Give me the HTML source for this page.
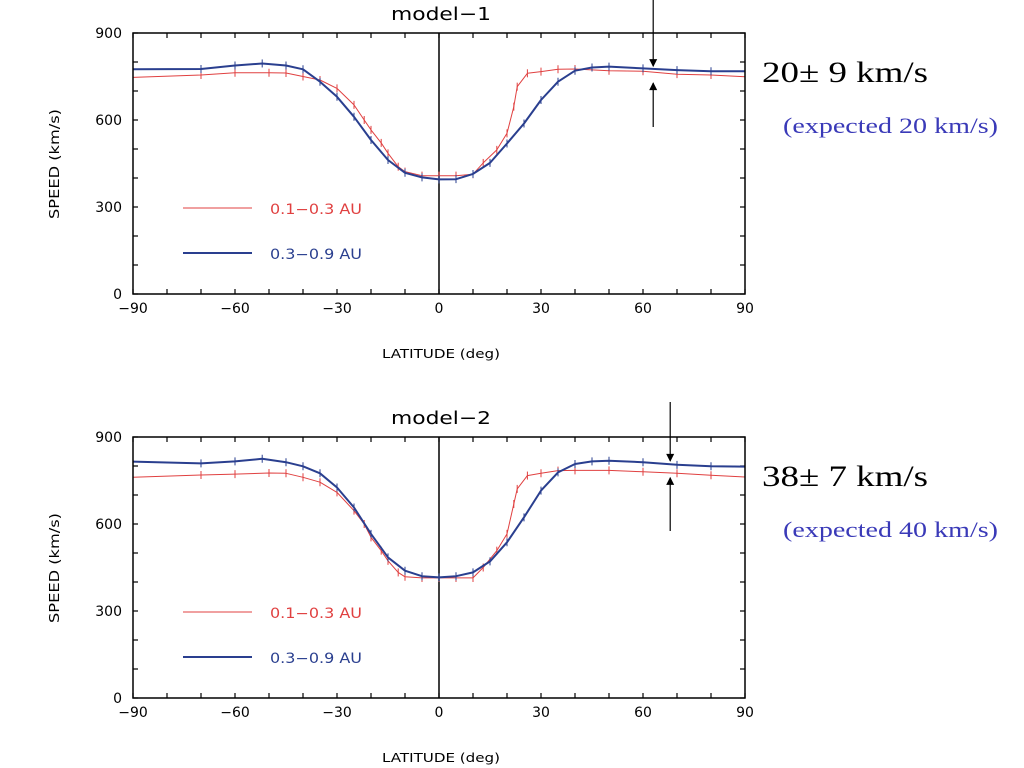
<!DOCTYPE html>
<html><head><meta charset="utf-8"><style>
html,body{margin:0;padding:0;background:#fff;width:1024px;height:768px;overflow:hidden}
text{font-family:"DejaVu Sans","Liberation Sans",sans-serif}
.ser{font-family:"Liberation Serif",serif}
</style></head><body>
<svg id="svg" width="1024" height="768" xmlns="http://www.w3.org/2000/svg"></svg>
<script>
const lat = [-90,-70,-60,-52,-45,-40,-35,-30,-25,-20,-15,-10,-5,0,5,10,15,20,25,30,35,40,45,50,60,70,80,90];
const blue1 = [775,776,788,795,788,775,732,680,611,531,462,418,402,395,396,414,452,519,588,669,732,770,781,784,778,772,768,768];
const red1Lat = [-90,-70,-60,-50,-45,-40,-35,-30,-25,-22,-20,-17,-15,-12,-10,-5,0,5,10,13,17,20,22,23,26,30,35,40,50,60,70,80,90];
const red1 = [747,755,763,763,762,750,738,709,652,600,566,521,485,439,422,408,408,408,413,452,497,554,646,715,761,767,775,776,770,768,758,755,749];
const blue2 = [815,809,816,825,813,799,775,726,657,566,485,439,420,416,420,433,471,537,623,715,778,807,816,818,813,804,799,798];
const red2 = [761,769,772,776,775,761,744,709,646,600,554,508,473,433,418,414,414,414,414,450,508,566,669,721,767,775,784,785,785,780,775,768,762];
const xTicks = [-90,-60,-30,0,30,60,90];
const yTicks = [0,300,600,900];
const panels = [
 {title:"model\u22121", top:33, blue:blue1, red:red1, result:"20\u00b1 9 km/s", expected:"(expected 20 km/s)", arrowLat:63},
 {title:"model\u22122", top:437, blue:blue2, red:red2, result:"38\u00b1 7 km/s", expected:"(expected 40 km/s)", arrowLat:68}
];
const NS="http://www.w3.org/2000/svg";
const svg=document.getElementById('svg');
function mk(tag,attrs,parent,txt){const e=document.createElementNS(NS,tag);for(const k in attrs)e.setAttribute(k,attrs[k]);if(txt!==undefined)e.textContent=txt;(parent||svg).appendChild(e);return e;}
const L=133,R=745,H=261;
panels.forEach(p=>{
  const g=mk('g',{});
  
  
  const T=p.top,B=T+H;
  const X=v=>L+(v+90)/180*(R-L);
  const Y=v=>B-v/900*H;
  for(let v=-90;v<=90;v+=10){mk('line',{x1:X(v),x2:X(v),y1:B,y2:B-5,stroke:'#000','stroke-width':1.2},g);mk('line',{x1:X(v),x2:X(v),y1:T,y2:T+5,stroke:'#000','stroke-width':1.2},g);}
  for(let v=0;v<=900;v+=100){mk('line',{x1:L,x2:L+5,y1:Y(v),y2:Y(v),stroke:'#000','stroke-width':1.2},g);mk('line',{x1:R,x2:R-5,y1:Y(v),y2:Y(v),stroke:'#000','stroke-width':1.2},g);}
  xTicks.forEach(v=>{const t=mk('text',{x:X(v),y:B+19,'text-anchor':'middle','font-size':14},g,v<0?'\u2212'+(-v):String(v));});
  yTicks.forEach(v=>{const t=mk('text',{x:L-11,y:Y(v)+5,'text-anchor':'end','font-size':14},g,String(v));});
  mk('line',{x1:X(0),x2:X(0),y1:T,y2:B,stroke:'#000','stroke-width':1.5},g);
  const ser=(lats,vals,color,w,name,err)=>{
    const pts=lats.map((a,i)=>X(a).toFixed(1)+','+Y(vals[i]).toFixed(1)).join(' ');
    const pl=mk('polyline',{points:pts,fill:'none',stroke:color,'stroke-width':w,'stroke-linejoin':'round'},g);
    
    
    lats.forEach((a,i)=>{mk('line',{x1:X(a),x2:X(a),y1:Y(vals[i])-err,y2:Y(vals[i])+err,stroke:color,'stroke-width':1},g);});
  };
  ser(red1Lat,p.red,'#e04040',1,'series-0.1-0.3AU',4);
  ser(lat,p.blue,'#2a3f8f',2,'series-0.3-0.9AU',4);
  const fr=mk('rect',{x:L,y:T,width:R-L,height:H,fill:'none',stroke:'#000','stroke-width':1.5},g);
  
  const tt=mk('text',{x:441,y:T-13,'text-anchor':'middle','font-size':18,textLength:100,lengthAdjust:'spacingAndGlyphs'},g,p.title);
  
  const xl=mk('text',{x:441,y:T+325,'text-anchor':'middle','font-size':12,textLength:118,lengthAdjust:'spacingAndGlyphs'},g,'LATITUDE (deg)');
  
  const yl=mk('text',{x:0,y:0,'text-anchor':'middle','font-size':13,textLength:110,lengthAdjust:'spacingAndGlyphs',transform:'translate(59,'+(T+131)+') rotate(-90)'},g,'SPEED (km/s)');
  
  mk('line',{x1:183,x2:252,y1:T+175,y2:T+175,stroke:'#e04040','stroke-width':1},g);
  const l1=mk('text',{x:270,y:T+181,'font-size':14,fill:'#e04040',textLength:92,lengthAdjust:'spacingAndGlyphs'},g,'0.1\u22120.3 AU');
  
  mk('line',{x1:183,x2:252,y1:T+220,y2:T+220,stroke:'#2a3f8f','stroke-width':2},g);
  const l2=mk('text',{x:270,y:T+226,'font-size':14,fill:'#2a3f8f',textLength:92,lengthAdjust:'spacingAndGlyphs'},g,'0.3\u22120.9 AU');
  
  const ax=X(p.arrowLat);
  const bv=Y(p.blue[lat.indexOf(70)]);
  mk('line',{x1:ax,x2:ax,y1:T-35,y2:bv-4,stroke:'#000','stroke-width':1.2},g);
  mk('polygon',{points:`${ax-4},${bv-11} ${ax+4},${bv-11} ${ax},${bv-3}`,fill:'#000'},g);
  const rv=bv+9;
  mk('line',{x1:ax,x2:ax,y1:T+94,y2:rv+4,stroke:'#000','stroke-width':1.2},g);
  mk('polygon',{points:`${ax-4},${rv+11} ${ax+4},${rv+11} ${ax},${rv+3}`,fill:'#000'},g);
  const r=mk('text',{x:762,y:T+49,'font-size':30,class:'ser',textLength:166,lengthAdjust:'spacingAndGlyphs'},g,p.result);
  
  const e=mk('text',{x:783,y:T+100,'font-size':22,class:'ser',fill:'#3a3ab8',textLength:215,lengthAdjust:'spacingAndGlyphs'},g,p.expected);
  
});
</script>
</body></html>
